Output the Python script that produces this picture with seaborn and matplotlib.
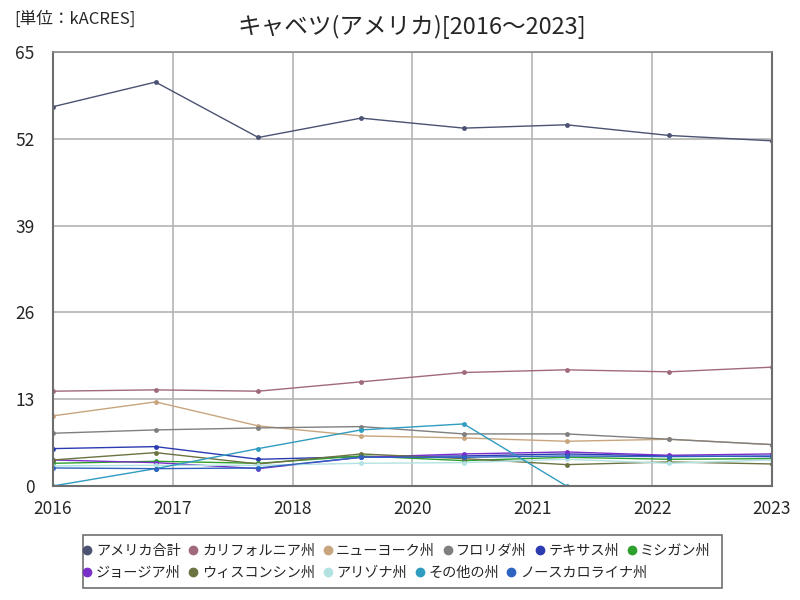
import numpy as np
import pandas as pd
import matplotlib
matplotlib.use('Agg')
import matplotlib.pyplot as plt
import seaborn as sns
from matplotlib.lines import Line2D
from matplotlib.patches import Rectangle

sns.set_style('white')
plt.rcParams['font.family'] = ['Noto Sans CJK JP', 'DejaVu Sans']

# données (kACRES), 2016 à 2023
years = [2016, 2017, 2018, 2019, 2020, 2021, 2022, 2023]
series_names = ['アメリカ合計', 'カリフォルニア州', 'ニューヨーク州', 'フロリダ州', 'テキサス州', 'ミシガン州',
                'ジョージア州', 'ウィスコンシン州', 'アリゾナ州', 'その他の州', 'ノースカロライナ州']
usa_total = [56.8, 60.5, 52.2, 55.1, 53.6, 54.1, 52.5, 51.7]
california = [14.2, 14.4, 14.2, 15.6, 17.0, 17.4, 17.1, 17.8]
new_york = [10.5, 12.6, 9.0, 7.5, 7.2, 6.7, 7.0, 6.2]
florida = [7.9, 8.4, 8.7, 8.9, 7.8, 7.8, 7.0, 6.2]
texas = [5.6, 5.9, 4.0, 4.4, 4.5, 4.8, 4.5, 4.4]
michigan = [3.4, 3.7, 3.4, 4.5, 3.8, 4.3, 4.0, 4.1]
georgia = [3.9, 3.5, 2.6, 4.3, 4.8, 5.1, 4.6, 4.8]
wisconsin = [3.9, 5.0, 3.3, 4.8, 4.1, 3.2, 3.6, 3.3]
arizona = [3.0, 3.1, 3.1, 3.4, 3.5, 4.0, 3.4, 3.9]
others = [0.0, 2.6, 5.6, 8.4, 9.3, 0.0, np.nan, np.nan]
north_carolina = [2.7, 2.6, 2.7, 4.3, 4.3, 4.5, 4.4, 4.5]

tick_labels = ['2016', '2017', '2018', '2020', '2021', '2022', '2023']

colors = ['#4b5272', '#a06a7a', '#c9a57e', '#7f7f7f', '#2b3bb0', '#2ea02e',
          '#7a2fc8', '#6b7340', '#b3e2e2', '#2f9cc0', '#2f63c0']

values = [usa_total, california, new_york, florida, texas, michigan,
          georgia, wisconsin, arizona, others, north_carolina]

rows = []
for name, vals in zip(series_names, values):
    for i, v in enumerate(vals):
        rows.append({'idx': i, 'series': name, 'value': v})
df = pd.DataFrame(rows).dropna()

fig = plt.figure(figsize=(8, 6), dpi=100)
ax = fig.add_axes([0.066, 0.19, 0.899, 0.7233])

sns.lineplot(data=df, x='idx', y='value', hue='series', hue_order=series_names,
             palette=colors, marker='o', markersize=3.5, markeredgewidth=0,
             linewidth=1, ax=ax, legend=False)

ax.set_xlim(0, 7)
ax.set_ylim(0, 65)
ax.set_yticks([0, 13, 26, 39, 52, 65])
ax.set_xticks(np.linspace(0, 7, 7))
ax.set_xticklabels(tick_labels)
ax.tick_params(axis='both', labelsize=12.5, length=0)
ax.tick_params(axis='x', pad=10)
ax.tick_params(axis='y', pad=13)
ax.set_xlabel('')
ax.set_ylabel('')
ax.grid(True, color='#b4b4b4', linewidth=1.2)
ax.set_axisbelow(True)
for side in ['left', 'bottom', 'right']:
    ax.spines[side].set_color('#6e6e6e')
    ax.spines[side].set_linewidth(1.5)
ax.spines['top'].set_color('#8a8a8a')
ax.spines['top'].set_linewidth(1.2)

fig.text(0.515, 0.955, 'キャベツ(アメリカ)[2016～2023]', ha='center', va='center', fontsize=17)
fig.text(0.018, 0.968, '[単位：kACRES]', ha='left', va='center', fontsize=12)

# cadre de la légende
fig.patches.append(Rectangle((0.104, 0.02), 0.799, 0.088, transform=fig.transFigure,
                             fill=False, edgecolor='#707070', linewidth=1.2))

handles = [Line2D([], [], linestyle='none', marker='o', markersize=6, color=c) for c in colors]
leg_kw = dict(loc='center left', fontsize=10.2, frameon=False, handlelength=0.6,
              handletextpad=0.3, columnspacing=0.6, borderpad=0, borderaxespad=0)
leg1 = fig.legend(handles[:6], series_names[:6], bbox_to_anchor=(0.104, 0.0817), ncol=6, **leg_kw)
leg2 = fig.legend(handles[6:], series_names[6:], bbox_to_anchor=(0.104, 0.045), ncol=5, **leg_kw)

fig.savefig('out.png', dpi=100)
